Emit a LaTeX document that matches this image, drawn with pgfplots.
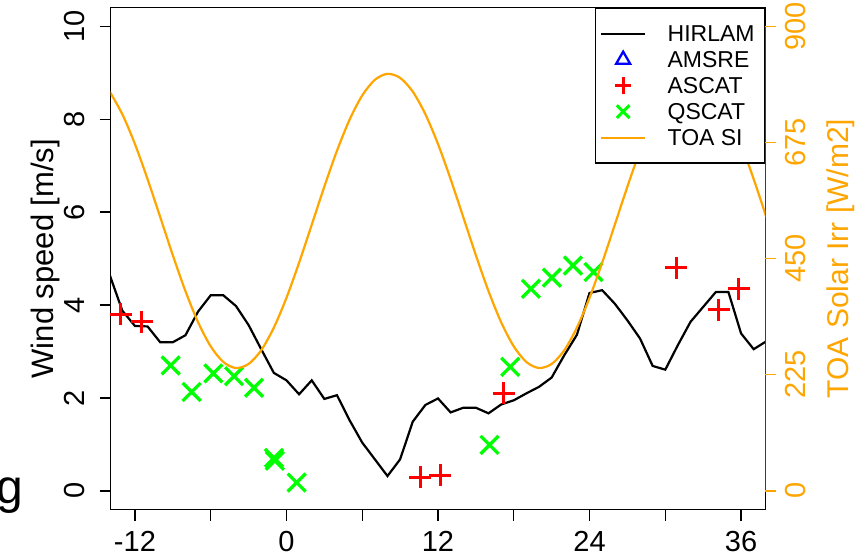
\documentclass[border=0pt]{standalone}
\usepackage{pgfplots}
\pgfplotsset{compat=1.18}
\usepackage{pgfplotstable}
\usepackage{fontspec}
\setmainfont{Liberation Sans}
\definecolor{rorange}{RGB}{255,165,0}
\definecolor{rgreen}{RGB}{0,255,0}
\definecolor{rred}{RGB}{255,0,0}
\definecolor{rblue}{RGB}{0,0,255}
\newcommand\lgx[1]{\makebox[93pt][l]{#1}}
\pgfplotsset{
  lgline/.style={legend image code/.code={\draw[##1] (0pt,0pt) -- (44pt,0pt);}},
  lgmark/.style={legend image code/.code={\path (0pt,0pt) (44pt,0pt); \draw[##1] plot coordinates {(22pt,0pt)};}},
}

\pgfplotstableread{
x y
-14 4.65
-13 3.88
-12 3.55
-11 3.54
-10 3.20
-9 3.20
-8 3.35
-7 3.86
-6 4.21
-5 4.21
-4 3.98
-3 3.57
-2 3.05
-1 2.54
0 2.38
1 2.08
2 2.38
3 1.98
4 2.06
5 1.52
6 1.04
7 0.68
8 0.32
9 0.68
10 1.49
11 1.85
12 1.99
13 1.69
14 1.79
15 1.79
16 1.67
17 1.86
18 1.95
19 2.10
20 2.24
21 2.44
22 2.92
23 3.36
24 4.26
25 4.32
26 4.03
27 3.67
28 3.28
29 2.69
30 2.61
31 3.14
32 3.64
33 3.96
34 4.28
35 4.28
36 3.39
37 3.05
38 3.22
}\hirlam

\pgfplotstableread{
x y
-13.13 3.80
-11.47 3.64
10.59 0.29
12.17 0.34
17.19 2.10
30.85 4.80
34.22 3.90
35.80 4.35
}\ascat

\pgfplotstableread{
x y
-9.17 2.70
-7.51 2.13
-5.79 2.53
-4.15 2.47
-2.57 2.22
-0.99 0.71
-0.92 0.65
0.81 0.18
16.08 0.99
17.72 2.67
19.36 4.35
21.02 4.59
22.69 4.85
24.32 4.71
}\qscat

\pgfplotstableread{
x y
-14 773.5
-13 729.7
-12 671.9
-11 603.9
-10 530.5
-9 456.5
-8 387.0
-7 326.8
-6 280.0
-5 249.7
-4 238.1
-3 245.9
-2 272.5
-1 316.3
0 374.1
1 442.1
2 515.5
3 589.5
4 659.0
5 719.2
6 766.0
7 796.3
8 807.9
9 800.1
10 773.5
11 729.7
12 671.9
13 603.9
14 530.5
15 456.5
16 387.0
17 326.8
18 280.0
19 249.7
20 238.1
21 245.9
22 272.5
23 316.3
24 374.1
25 442.1
26 515.5
27 589.5
28 659.0
29 719.2
30 766.0
31 796.3
32 807.9
33 800.1
34 773.5
35 729.7
36 671.9
37 603.9
38 530.5
}\toa

\begin{document}
\begin{tikzpicture}
\useasboundingbox (-110.7pt,-42.5pt) rectangle (745.3pt,509.5pt);
\begin{axis}[
  scale only axis, width=654.6pt, height=501.8pt,
  at={(0pt,0pt)}, anchor=south west,
  xmin=-13.92, xmax=37.92, ymin=-0.4, ymax=10.4,
  xtick={-12,-6,0,6,12,18,24,30,36},
  xticklabels={-12,,0,,12,,24,,36},
  ytick={0,2,4,6,8,10},
  xtick pos=left, ytick pos=left,
  tick align=outside, major tick length=11pt,
  tick style={line width=1.3pt, black},
  axis line style={line width=1.3pt, black},
  /pgf/number format/assume math mode=true,
  tick label style={font=\fontsize{29}{34}\selectfont},
  xticklabel style={anchor=base, inner sep=0pt, yshift=-31pt},
  yticklabel style={xshift=-14.7pt, rotate=90, anchor=base, inner sep=0pt},
  ylabel={Wind speed [m/s]},
  every axis y label/.style={at={(rel axis cs:0,0.5)}, xshift=-57.4pt, rotate=90, anchor=base, inner sep=0pt, font=\fontsize{31}{34}\selectfont},
]
\addplot[black, line width=2.2pt, mark=none] table {\hirlam};
\addplot[only marks, mark=+, mark size=11pt, rred, line width=3pt] table {\ascat};
\addplot[only marks, mark=x, mark size=12.7pt, rgreen, line width=3.3pt] table {\qscat};
\end{axis}
\begin{axis}[
  scale only axis, width=654.6pt, height=501.8pt,
  at={(0pt,0pt)}, anchor=south west,
  xmin=-13.92, xmax=37.92, ymin=-36, ymax=936,
  axis x line=none, axis y line*=right,
  y axis line style={draw=none},
  ytick={0,225,450,675,900},
  tick align=outside, major tick length=11pt,
  ytick style={line width=1.3pt, rorange},
  /pgf/number format/assume math mode=true,
  yticklabel style={xshift=28.7pt, rotate=90, anchor=base, inner sep=0pt, rorange, font=\fontsize{29}{34}\selectfont},
  ylabel={TOA Solar Irr [W/m2]},
  every axis y label/.style={at={(rel axis cs:1,0.5)}, xshift=82.7pt, rotate=90, anchor=base, inner sep=0pt, rorange, font=\fontsize{30}{34}\selectfont},
  legend style={at={(rel axis cs:1,1)}, anchor=north east, draw=black, line width=1.3pt, fill=white,
    font=\fontsize{23}{26}\selectfont, inner xsep=4pt, inner ysep=12.3pt, row sep=0pt, column sep=21pt,
    cells={anchor=west}, nodes={inner sep=0pt, text height=21.25pt, text depth=4.75pt}},
  legend cell align=left,
]
\draw[rorange, line width=1.3pt] (axis cs:37.92,0) -- (axis cs:37.92,900);
\addlegendimage{lgline, black, line width=2pt}
\addlegendentry{\lgx{HIRLAM}}
\addlegendimage{lgmark, only marks, mark=triangle, mark size=8pt, rblue, line width=2.3pt}
\addlegendentry{\lgx{AMSRE}}
\addlegendimage{lgmark, only marks, mark=+, mark size=8.3pt, rred, line width=3pt}
\addlegendentry{\lgx{ASCAT}}
\addlegendimage{lgmark, only marks, mark=x, mark size=9pt, rgreen, line width=3pt}
\addlegendentry{\lgx{QSCAT}}
\addplot[lgline, rorange, line width=2.2pt, smooth, mark=none] table {\toa};
\addlegendentry{\lgx{TOA SI}}
\end{axis}
\node[anchor=base east, inner sep=0pt, font=\fontsize{48}{48}\selectfont] at (-87.7pt,6.5pt) {g};
\end{tikzpicture}
\end{document}
